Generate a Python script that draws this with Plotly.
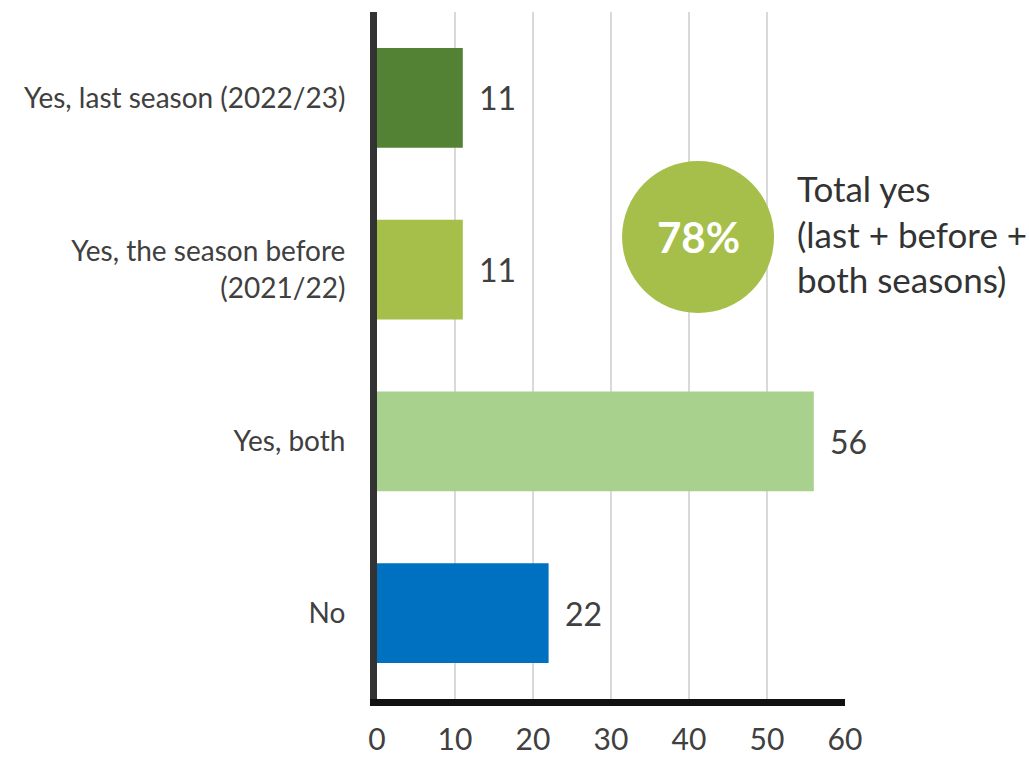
import plotly.graph_objects as go

# Survey answers, top to bottom
categories = ["Yes, last season (2022/23)", "Yes, the season before<br>(2021/22)", "Yes, both", "No"]
shares = [11, 11, 56, 22]
bar_colors = ["#548235", "#A5BF4A", "#A9D18E", "#0070C0"]
x_ticks = [0, 10, 20, 30, 40, 50, 60]

total_yes = sum(shares[:3])

FONT = "Lato, 'Open Sans', sans-serif"
TEXT_COLOR = "#404040"

fig = go.Figure()
fig.add_trace(go.Bar(
    x=shares,
    y=categories,
    orientation="h",
    marker=dict(color=bar_colors, line=dict(width=0)),
    width=0.58,
    hoverinfo="skip",
))

# value labels to the right of each bar
for cat, val in zip(categories, shares):
    fig.add_annotation(
        x=val, y=cat, xref="x", yref="y",
        text=str(val), showarrow=False,
        xanchor="left", yanchor="middle", xshift=14,
        font=dict(family=FONT, size=32, color=TEXT_COLOR),
    )

# highlight bubble with the combined "yes" share
fig.add_shape(
    type="circle", xref="paper", yref="paper",
    xsizemode="pixel", ysizemode="pixel",
    xanchor=0.686, yanchor=0.6725,
    x0=-76, x1=76, y0=-76, y1=76,
    fillcolor="#A5BF4A", line=dict(width=0), layer="above",
)
fig.add_annotation(
    x=0.686, y=0.6725, xref="paper", yref="paper",
    text=f"<b>{total_yes}%</b>", showarrow=False,
    xanchor="center", yanchor="middle",
    font=dict(family=FONT, size=42, color="white"),
)
fig.add_annotation(
    x=0.893, y=0.678, xref="paper", yref="paper",
    text="Total yes<br>(last + before +<br>both seasons)",
    showarrow=False, align="left", xanchor="left", yanchor="middle",
    font=dict(family=FONT, size=35, color="#333333"),
)

fig.update_layout(
    width=1029, height=761,
    margin=dict(l=377, r=184, t=12, b=62),
    plot_bgcolor="white", paper_bgcolor="white",
    showlegend=False,
    bargap=0.42,
    font=dict(family=FONT, color=TEXT_COLOR),
)
fig.update_xaxes(
    range=[0, 60], tickvals=x_ticks, ticktext=[str(t) for t in x_ticks],
    showgrid=True, gridcolor="#D9D9D9", gridwidth=2,
    showline=True, linecolor="#111111", linewidth=7,
    zeroline=False, ticks="", ticklabelstandoff=8, automargin=False,
    tickfont=dict(family=FONT, size=30, color=TEXT_COLOR),
)
fig.update_yaxes(
    autorange="reversed", categoryorder="array", categoryarray=categories,
    showline=True, linecolor="#333333", linewidth=7,
    showgrid=False, zeroline=False, ticks="", ticklabelstandoff=19, automargin=False,
    tickfont=dict(family=FONT, size=28, color=TEXT_COLOR),
)

fig.write_html("out.html")
